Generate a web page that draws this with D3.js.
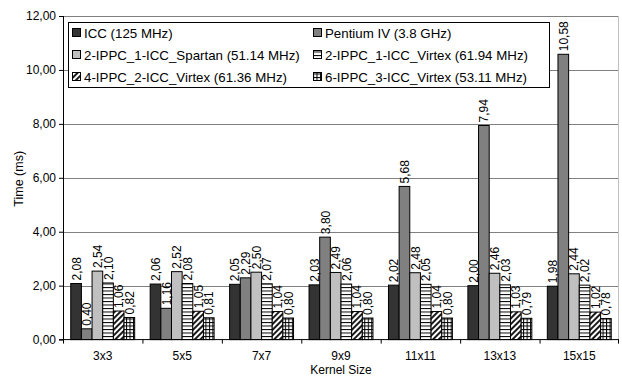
<!DOCTYPE html>
<html>
<head>
<meta charset="utf-8">
<script src="https://cdn.jsdelivr.net/npm/d3@7"></script>
<style>
  body { margin: 0; background: #fff; }
  svg text { font-family: "Liberation Sans", Arial, sans-serif; fill: #000; }
</style>
</head>
<body>
<div id="chart"></div>
<script>
// chart size
const width = 622;
const height = 376;
const margin = {left: 63, right: 3, top: 16, bottom: 36.4};

// data
const kernels = ["3x3", "5x5", "7x7", "9x9", "11x11", "13x13", "15x15"];
const seriesNames = [
  "ICC (125 MHz)",
  "Pentium IV (3.8 GHz)",
  "2-IPPC_1-ICC_Spartan (51.14 MHz)",
  "2-IPPC_1-ICC_Virtex (61.94 MHz)",
  "4-IPPC_2-ICC_Virtex (61.36 MHz)",
  "6-IPPC_3-ICC_Virtex (53.11 MHz)"
];
const icc      = [2.08, 2.06, 2.05, 2.03, 2.02, 2.00, 1.98];
const pentium  = [0.40, 1.16, 2.29, 3.80, 5.68, 7.94, 10.58];
const spartan  = [2.54, 2.52, 2.50, 2.49, 2.48, 2.46, 2.44];
const virtex2  = [2.10, 2.08, 2.07, 2.06, 2.05, 2.03, 2.02];
const virtex4  = [1.06, 1.05, 1.04, 1.04, 1.04, 1.03, 1.02];
const virtex6  = [0.82, 0.81, 0.80, 0.80, 0.80, 0.79, 0.78];
const yTicks = [0, 2, 4, 6, 8, 10, 12];

const seriesValues = [icc, pentium, spartan, virtex2, virtex4, virtex6];
const fills = ["#333333", "#808080", "#c0c0c0", "url(#hlines)", "url(#diag)", "url(#grid)"];
const fontFam = "'Liberation Sans', Arial, sans-serif";

const svg = d3.select("#chart")
  .append("svg")
  .attr("width", width)
  .attr("height", height);

// fill patterns
const defs = svg.append("defs");

const hl = defs.append("pattern")
  .attr("id", "hlines").attr("patternUnits", "userSpaceOnUse")
  .attr("width", 4).attr("height", 3.5);
hl.append("rect").attr("width", 4).attr("height", 3.5).attr("fill", "#fff");
hl.append("line").attr("x1", 0).attr("x2", 4).attr("y1", 0.5).attr("y2", 0.5)
  .attr("stroke", "#000").attr("stroke-width", 1);

const dg = defs.append("pattern")
  .attr("id", "diag").attr("patternUnits", "userSpaceOnUse")
  .attr("width", 4).attr("height", 4)
  .attr("patternTransform", "rotate(45)");
dg.append("rect").attr("width", 4).attr("height", 4).attr("fill", "#fff");
dg.append("line").attr("x1", 1).attr("x2", 1).attr("y1", 0).attr("y2", 4)
  .attr("stroke", "#000").attr("stroke-width", 1.8);

const gr = defs.append("pattern")
  .attr("id", "grid").attr("patternUnits", "userSpaceOnUse")
  .attr("width", 3.5).attr("height", 3.5);
gr.append("rect").attr("width", 3.5).attr("height", 3.5).attr("fill", "#fff");
gr.append("line").attr("x1", 0.5).attr("x2", 0.5).attr("y1", 0).attr("y2", 3.5)
  .attr("stroke", "#000").attr("stroke-width", 1);
gr.append("line").attr("x1", 0).attr("x2", 3.5).attr("y1", 0.5).attr("y2", 0.5)
  .attr("stroke", "#000").attr("stroke-width", 1);

// scales
const x0 = d3.scaleBand()
  .domain(kernels)
  .range([margin.left, width - margin.right]);

const x1 = d3.scaleBand()
  .domain(d3.range(seriesNames.length))
  .range([7.75, x0.bandwidth() - 7.75]);

const y = d3.scaleLinear()
  .domain([0, 12])
  .range([height - margin.bottom, margin.top]);

const fmt = v => d3.format(".2f")(v).replace(".", ",");

// gridlines
svg.append("g")
  .selectAll("line")
  .data(yTicks.slice(1))
  .enter()
  .append("line")
    .attr("x1", margin.left).attr("x2", width - margin.right)
    .attr("y1", d => Math.round(y(d)) + 0.5).attr("y2", d => Math.round(y(d)) + 0.5)
    .attr("stroke", "#808080");

// right border
svg.append("line")
  .attr("x1", width - margin.right - 0.5).attr("x2", width - margin.right - 0.5)
  .attr("y1", margin.top).attr("y2", y(0))
  .attr("stroke", "#c0c0c0");

// bars
const groups = svg.append("g")
  .selectAll("g")
  .data(kernels)
  .enter()
  .append("g")
    .attr("transform", d => `translate(${x0(d)},0)`);

groups.selectAll("rect")
  .data((d, i) => seriesValues.map((s, j) => ({s: j, v: s[i]})))
  .enter()
  .append("rect")
    .attr("x", d => x1(d.s))
    .attr("y", d => y(d.v))
    .attr("width", x1.bandwidth())
    .attr("height", d => y(0) - y(d.v))
    .attr("fill", d => fills[d.s])
    .attr("stroke", "#000")
    .attr("stroke-width", 1);

// value labels
groups.selectAll("text")
  .data((d, i) => seriesValues.map((s, j) => ({s: j, v: s[i]})))
  .enter()
  .append("text")
    .attr("transform", d => `translate(${x1(d.s) + x1.bandwidth() / 2 + 4.5},${y(d.v) - 3}) rotate(-90)`)
    .attr("font-size", "12px")
    .text(d => fmt(d.v));

// y axis
svg.append("g")
  .attr("transform", `translate(${margin.left},0)`)
  .call(d3.axisLeft(y).tickValues(yTicks).tickSize(4).tickPadding(3).tickFormat(fmt))
  .call(g => g.selectAll("text").attr("font-size", "12px").attr("font-family", fontFam))
  .call(g => g.select(".domain").attr("d", `M0.5,${y(12)}V${y(0)}`));

// x axis
const xAxis = svg.append("g")
  .attr("transform", `translate(0,${y(0)})`);
xAxis.append("line")
  .attr("x1", margin.left - 4).attr("x2", width - margin.right)
  .attr("stroke", "#000");
xAxis.selectAll(".tick")
  .data(kernels.concat(["end"]))
  .enter()
  .append("line")
    .attr("x1", (d, i) => i < kernels.length ? x0(d) + 0.5 : width - margin.right - 0.5)
    .attr("x2", (d, i) => i < kernels.length ? x0(d) + 0.5 : width - margin.right - 0.5)
    .attr("y1", 0).attr("y2", 4)
    .attr("stroke", "#000");
xAxis.selectAll("text")
  .data(kernels)
  .enter()
  .append("text")
    .attr("x", d => x0(d) + x0.bandwidth() / 2)
    .attr("y", 20)
    .attr("text-anchor", "middle")
    .attr("font-size", "12px")
    .text(d => d);

// axis titles
svg.append("text")
  .attr("x", (margin.left + width - margin.right) / 2)
  .attr("y", 374)
  .attr("text-anchor", "middle")
  .attr("font-size", "12px")
  .text("Kernel Size");

svg.append("text")
  .attr("transform", `translate(22.5,${(y(0) + y(12)) / 2 + 1}) rotate(-90)`)
  .attr("text-anchor", "middle")
  .attr("font-size", "12.5px")
  .text("Time (ms)");

// legend
const legend = svg.append("g");
legend.append("rect")
  .attr("x", 68.5).attr("y", 22.5)
  .attr("width", 481).attr("height", 65)
  .attr("fill", "#fff").attr("stroke", "#000");

const legendItems = legend.selectAll("g")
  .data(seriesNames)
  .enter()
  .append("g")
    .attr("transform", (d, i) => `translate(${i % 2 === 0 ? 72 : 313},${33 + Math.floor(i / 2) * 22})`);

legendItems.append("rect")
  .attr("x", 0.5).attr("y", -4.5)
  .attr("width", 8).attr("height", 8)
  .attr("fill", (d, i) => fills[i])
  .attr("stroke", "#000");

legendItems.append("text")
  .attr("x", 12).attr("y", 5)
  .attr("font-size", "13.3px")
  .text(d => d);
</script>
</body>
</html>
